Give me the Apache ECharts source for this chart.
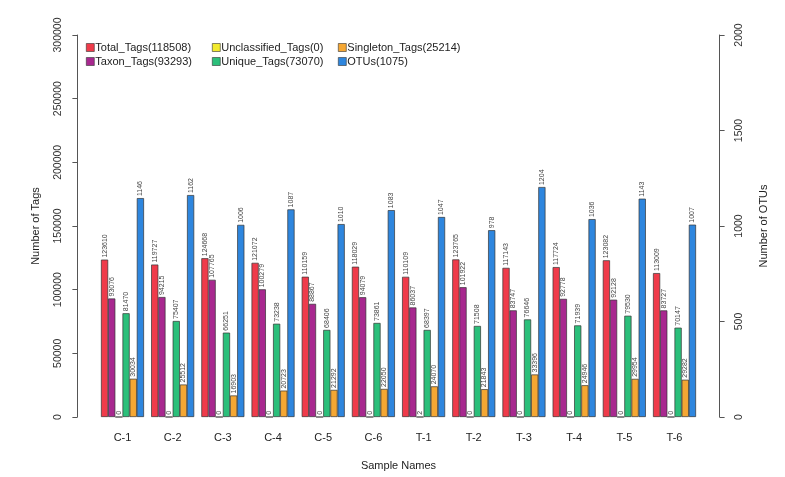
<!DOCTYPE html>
<html>
<head>
<meta charset="utf-8">
<script src="https://cdn.jsdelivr.net/npm/echarts@6/dist/echarts.min.js"></script>
<style>html,body{margin:0;padding:0;background:#fff}#c{width:785px;height:477px}</style>
</head>
<body>
<div id="c"></div>
<script>
const categories = ['C-1','C-2','C-3','C-4','C-5','C-6','T-1','T-2','T-3','T-4','T-5','T-6'];
const totalTags        = [123610,119727,124668,121072,110159,118029,110109,123765,117143,117724,123082,113009];
const taxonTags        = [93076,94215,107765,100279,88867,94079,86037,101922,83747,92778,92128,83727];
const unclassifiedTags = [0,0,0,0,0,0,2,0,0,0,0,0];
const uniqueTags       = [81470,75407,66251,73238,68406,73861,68397,71508,76646,71939,79530,70147];
const singletonTags    = [30034,25512,16903,20723,21292,22050,24070,21843,33396,24946,29954,29282];
const otus             = [1146,1162,1006,1087,1010,1083,1047,978,1204,1036,1143,1007];
const seriesNames = ['Total_Tags(118508)','Taxon_Tags(93293)','Unclassified_Tags(0)','Unique_Tags(73070)','Singleton_Tags(25214)','OTUs(1075)'];
const leftTicks = {min:0, max:300000, interval:50000};
const rightTicks = {min:0, max:2000, interval:500};

const colors = ['#EF3B4A','#A8288F','#F2EA2E','#2BBF7A','#F5A733','#2E86DE'];
const font = "'Liberation Sans', Arial, Helvetica, sans-serif";
const dataSets = [totalTags, taxonTags, unclassifiedTags, uniqueTags, singletonTags, otus];

const chart = echarts.init(document.getElementById('c'));
const series = dataSets.map((d,i)=>({
  name: seriesNames[i],
  type: 'bar',
  yAxisIndex: i===5 ? 1 : 0,
  data: d,
  barWidth: 7.17,
  barGap: '0%',
  itemStyle: {color: colors[i], borderColor: '#333', borderWidth: 0.7},
  label: {show: true, position: 'top', rotate: 90, align: 'left', verticalAlign: 'middle',
          distance: 2, fontSize: 7, color: '#444', fontFamily: font},
  emphasis: {disabled: true},
  animation: false
}));
const legendCommon = {orient:'vertical', itemWidth:8, itemHeight:8, itemGap:3,
  textStyle:{fontSize:11, color:'#222', fontFamily:font, padding:[0,0,0,-4], lineHeight:10},
  icon:'rect', itemStyle:{borderColor:'#333', borderWidth:0.6}, padding:0};
const plain = v => String(v);
chart.setOption({
  animation: false,
  color: colors,
  legend: [
    Object.assign({}, legendCommon, {left:86, top:42, data:[seriesNames[0], seriesNames[1]]}),
    Object.assign({}, legendCommon, {left:212, top:42, data:[seriesNames[2], seriesNames[3]]}),
    Object.assign({}, legendCommon, {left:338, top:42, data:[seriesNames[4], seriesNames[5]]})
  ],
  grid: {left: 97.4, right: 85.4, top: 35, bottom: 60, containLabel: false},
  xAxis: {
    type: 'category', data: categories,
    axisLine: {show: false}, axisTick: {show: false},
    axisLabel: {fontSize: 11, color: '#222', margin: 15, fontFamily: font},
    name: 'Sample Names', nameLocation: 'middle', nameGap: 43,
    nameTextStyle: {fontSize: 11, color: '#222', fontFamily: font}
  },
  yAxis: [
    Object.assign({type: 'value', position: 'left', offset: 20,
      axisLine: {show: true, lineStyle: {color: '#555'}},
      axisTick: {show: true, length: 5, lineStyle: {color: '#555'}},
      splitLine: {show: false},
      axisLabel: {rotate: 90, fontSize: 10.5, color: '#333', margin: 14, fontFamily: font, formatter: plain},
      name: 'Number of Tags', nameLocation: 'middle', nameGap: 36, nameRotate: 90,
      nameTextStyle: {fontSize: 11, color: '#222', fontFamily: font}}, leftTicks),
    Object.assign({type: 'value', position: 'right', offset: 20,
      axisLine: {show: true, lineStyle: {color: '#555'}},
      axisTick: {show: true, length: 5, lineStyle: {color: '#555'}},
      splitLine: {show: false},
      axisLabel: {rotate: 90, fontSize: 10.5, color: '#333', margin: 14, fontFamily: font, formatter: plain},
      name: 'Number of OTUs', nameLocation: 'middle', nameGap: 39, nameRotate: 90,
      nameTextStyle: {fontSize: 11, color: '#222', fontFamily: font}}, rightTicks)
  ],
  series: series
});
</script>
</body>
</html>
